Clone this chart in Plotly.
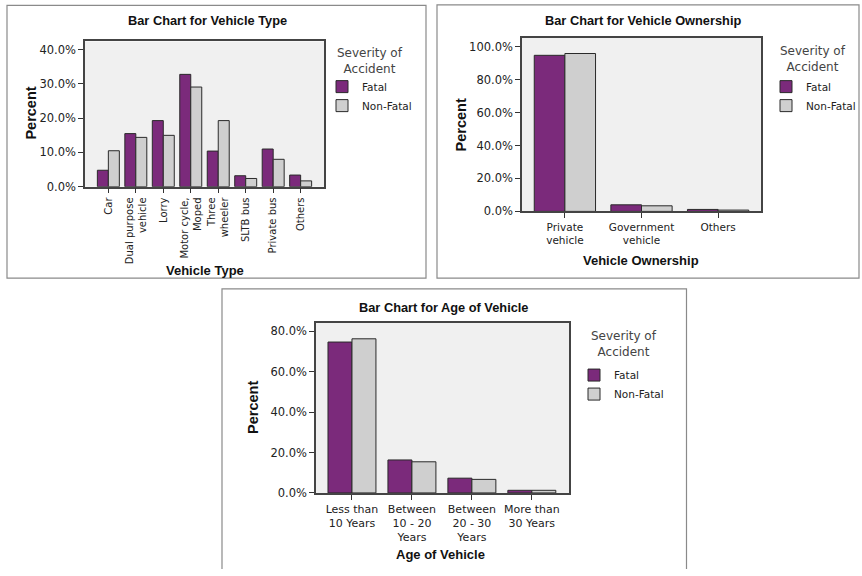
import plotly.graph_objects as go

# ---------------- data ----------------
severity = ["Fatal", "Non-Fatal"]

type_categories = ["Car", "Dual purpose<br>vehicle", "Lorry", "Motor cycle,<br>Moped",
                   "Three<br>wheeler", "SLTB bus", "Private bus", "Others"]
type_fatal = [4.8, 15.5, 19.3, 32.8, 10.4, 3.2, 11.0, 3.4]
type_nonfatal = [10.5, 14.4, 15.0, 29.1, 19.3, 2.4, 8.0, 1.7]

own_categories = ["Private<br>vehicle", "Government<br>vehicle", "Others"]
own_fatal = [94.8, 4.0, 1.2]
own_nonfatal = [95.9, 3.4, 0.8]

age_categories = ["Less than<br>10 Years", "Between<br>10 - 20<br>Years",
                  "Between<br>20 - 30<br>Years", "More than<br>30 Years"]
age_fatal = [74.6, 16.3, 7.3, 1.3]
age_nonfatal = [76.2, 15.4, 6.7, 1.3]

titles = ["Bar Chart for Vehicle Type", "Bar Chart for Vehicle Ownership", "Bar Chart for Age of Vehicle"]
xtitles = ["Vehicle Type", "Vehicle Ownership", "Age of Vehicle"]
legend_title = "Severity of<br>Accident"

# ---------------- style ----------------
W, H = 862, 576
FONT = "Liberation Sans, Arial, sans-serif"
TFONT = "DejaVu Sans, Verdana, sans-serif"
FATAL_C = "#7b2a7b"
NONFATAL_C = "#cfcfcf"
EDGE = "#2a2a2a"


def px(x):
    return x / W


def py(y):
    return 1 - y / H


fig = go.Figure()

panels = [
    dict(cats=type_categories, f=type_fatal, nf=type_nonfatal, xa="x", ya="y", leg="legend",
         dom_x=(85, 324), dom_y=(189, 42), yr=[0, 42.4], dtick=10, xr=[-0.85, 7.85],
         tickangle=-90, xtfs=10),
    dict(cats=own_categories, f=own_fatal, nf=own_nonfatal, xa="x2", ya="y2", leg="legend2",
         dom_x=(522, 761), dom_y=(214, 38), yr=[0, 105.6], dtick=20, xr=[-0.56, 2.56],
         tickangle=0, xtfs=10.5),
    dict(cats=age_categories, f=age_fatal, nf=age_nonfatal, xa="x3", ya="y3", leg="legend3",
         dom_x=(316, 569), dom_y=(499, 327), yr=[0, 84], dtick=20, xr=[-0.6, 3.62],
         tickangle=0, xtfs=11),
]

for i, p in enumerate(panels):
    for name, vals, col in [(severity[0], p["f"], FATAL_C), (severity[1], p["nf"], NONFATAL_C)]:
        fig.add_trace(go.Bar(
            x=p["cats"], y=vals, name=name, xaxis=p["xa"], yaxis=p["ya"], legend=p["leg"],
            marker=dict(color=col, line=dict(color=EDGE, width=1)),
        ))

layout = dict(
    width=W, height=H, margin=dict(l=0, r=0, t=0, b=0),
    paper_bgcolor="white", plot_bgcolor="#f0f0f0",
    barmode="group", bargap=0.2, font=dict(family=TFONT, size=11, color="#222"),
    showlegend=True,
)

for i, p in enumerate(panels):
    sfx = "" if i == 0 else str(i + 1)
    layout["xaxis" + sfx] = dict(
        domain=[px(p["dom_x"][0]), px(p["dom_x"][1])], anchor="y" + sfx,
        range=p["xr"], type="category", showline=True, linecolor="#444", linewidth=1.5,
        mirror=True, ticks="outside", ticklen=5, tickcolor="#333", tickangle=p["tickangle"],
        tickfont=dict(family=TFONT, size=p["xtfs"], color="#222"), showgrid=False,
        fixedrange=True,
    )
    layout["yaxis" + sfx] = dict(
        domain=[py(p["dom_y"][0]), py(p["dom_y"][1])], anchor="x" + sfx,
        range=p["yr"], dtick=p["dtick"], tick0=0, tickformat=".1f", ticksuffix="%",
        showline=True, linecolor="#444", linewidth=1.5, mirror=True, ticks="outside",
        ticklen=5, tickcolor="#333", showgrid=False, zeroline=False,
        tickfont=dict(family=TFONT, size=11.5, color="#222"), fixedrange=True,
    )

fig.update_layout(**layout)

# legend item blocks (title drawn separately, centred above)
legend_pos = [(322, 73), (766, 73), (574, 365)]
for i, (lx, ly) in enumerate(legend_pos):
    key = "legend" if i == 0 else "legend" + str(i + 1)
    fig.update_layout(**{key: dict(
        x=px(lx), y=py(ly), xanchor="left", yanchor="top",
        bgcolor="rgba(0,0,0,0)", borderwidth=0,
        font=dict(family=TFONT, size=10.5, color="#222"),
        itemclick=False, itemdoubleclick=False, tracegroupgap=0,
    )})

ann = []
lt_pos = [(370, 62), (813, 60), (624, 348)]
for (x, y) in lt_pos:
    ann.append(dict(text=legend_title, x=px(x), y=py(y), xref="paper", yref="paper",
                    showarrow=False, align="center",
                    font=dict(family=TFONT, size=12, color="#444"),
                    xanchor="center", yanchor="middle"))
title_pos = [(207, 21), (643, 21), (443, 311)]
for t, (x, y) in zip(titles, title_pos):
    ann.append(dict(text="<b>" + t + "</b>", x=px(x), y=py(y), xref="paper", yref="paper",
                    showarrow=False, font=dict(family=FONT, size=12.8, color="#111"),
                    xanchor="center", yanchor="middle"))
xt_pos = [(205, 274), (641, 264), (440, 561)]
for t, (x, y) in zip(xtitles, xt_pos):
    ann.append(dict(text="<b>" + t + "</b>", x=px(x), y=py(y), xref="paper", yref="paper",
                    showarrow=False, font=dict(family=FONT, size=13, color="#111"),
                    xanchor="center", yanchor="middle"))
yt_pos = [(31, 115), (461, 127), (253, 413)]
for (x, y) in yt_pos:
    ann.append(dict(text="<b>Percent</b>", x=px(x), y=py(y), xref="paper", yref="paper",
                    showarrow=False, textangle=-90, font=dict(family=FONT, size=14.5, color="#111"),
                    xanchor="center", yanchor="middle"))
fig.update_layout(annotations=ann)

BOX_LINE = dict(color="#8a8a8a", width=1.2)
boxes = [(7, 5.5, 426, 281.5), (437, 5, 859, 281.5)]
shapes = []
for (x0, y0, x1, y1) in boxes:
    shapes.append(dict(type="rect", xref="paper", yref="paper", x0=px(x0), x1=px(x1),
                       y0=py(y1), y1=py(y0), line=BOX_LINE,
                       fillcolor="rgba(0,0,0,0)", layer="below"))
# third panel frame runs off the bottom edge (no bottom border visible)
bx0, by0, bx1 = 222, 292.5, 686.5
shapes.append(dict(type="path", xref="paper", yref="paper", layer="below", line=BOX_LINE,
                   path=f"M {px(bx0)},0 L {px(bx0)},{py(by0)} L {px(bx1)},{py(by0)} L {px(bx1)},0"))
fig.update_layout(shapes=shapes)

fig.write_html("out.html", config={"displayModeBar": False},
               post_script="document.body.style.margin='0';")
